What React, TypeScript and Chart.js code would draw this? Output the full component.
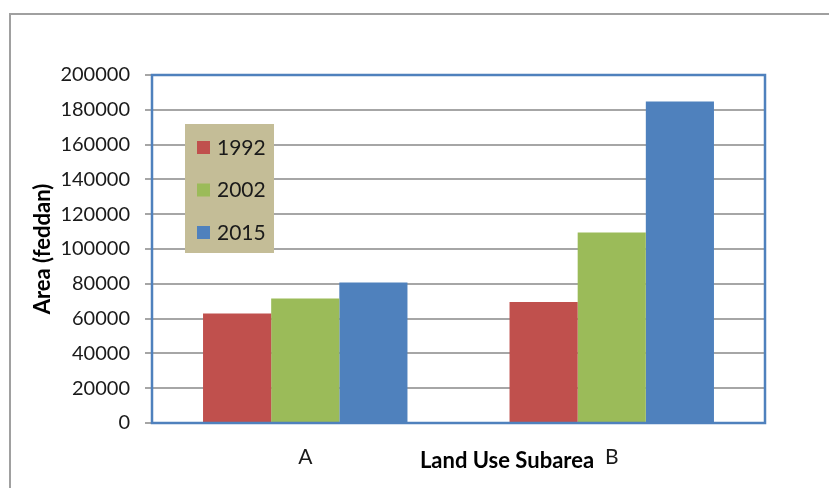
import React, { useEffect, useRef } from "react";
import { Chart, registerables } from "chart.js";

Chart.register(...registerables);

const categories = ["A", "B"];
const seriesNames = ["1992", "2002", "2015"];
const values1992 = [63000, 69500];
const values2002 = [71500, 109500];
const values2015 = [80700, 184800];
const colors = ["#C0504D", "#9BBB59", "#4F81BD"];
const yTitle = "Area (feddan)";
const xTitle = "Land Use Subarea";

const FONT = "Lato, 'Open Sans', sans-serif";

const decorPlugin = {
  id: "decor",
  beforeDraw(chart: any) {
    const ctx = chart.ctx;
    ctx.save();
    ctx.fillStyle = "#ffffff";
    ctx.fillRect(0, 0, chart.width, chart.height);
    ctx.strokeStyle = "#A0A0A0";
    ctx.lineWidth = 2;
    ctx.strokeRect(10, 14, chart.width + 20, chart.height + 20);
    ctx.restore();
  },
  afterDatasetsDraw(chart: any) {
    const ctx = chart.ctx;
    const a = chart.chartArea;
    ctx.save();
    // plot frame
    ctx.strokeStyle = "#4F81BD";
    ctx.lineWidth = 2.5;
    ctx.strokeRect(a.left, a.top, a.right - a.left, a.bottom - a.top);
    // legend box
    const lx = a.left + 33;
    const ly = a.top + 49;
    ctx.fillStyle = "#C4BD97";
    ctx.fillRect(lx, ly, 89, 129);
    ctx.font = `21px ${FONT}`;
    ctx.textBaseline = "middle";
    ctx.textAlign = "left";
    chart.data.datasets.forEach((ds: any, i: number) => {
      const cy = ly + 23 + i * 42.5;
      ctx.fillStyle = ds.backgroundColor;
      ctx.fillRect(lx + 12, cy - 6, 13, 13);
      ctx.fillStyle = "#1a1a1a";
      ctx.fillText(ds.label, lx + 32, cy + 1);
    });
    // axis titles
    ctx.fillStyle = "#000";
    ctx.font = `bold 22px ${FONT}`;
    ctx.textAlign = "center";
    ctx.textBaseline = "alphabetic";
    ctx.fillText(xTitle, a.left + 355, a.bottom + 45);
    ctx.save();
    ctx.translate(50, (a.top + a.bottom) / 2);
    ctx.rotate(-Math.PI / 2);
    ctx.textBaseline = "alphabetic";
    ctx.fillText(yTitle, 0, 0);
    ctx.restore();
    ctx.restore();
  },
};

export default function App() {
  const ref = useRef<HTMLCanvasElement | null>(null);
  useEffect(() => {
    document.body.style.margin = "0";
    const ds = [values1992, values2002, values2015].map((v, i) => ({
      label: seriesNames[i],
      data: v,
      backgroundColor: colors[i],
      borderWidth: 0,
      categoryPercentage: 0.667,
      barPercentage: 1,
    }));
    const chart = new Chart(ref.current!, {
      type: "bar",
      data: { labels: categories, datasets: ds },
      plugins: [decorPlugin],
      options: {
        animation: false,
        responsive: false,
        layout: { padding: { top: 75, right: 64, left: 0, bottom: 0 } },
        plugins: { legend: { display: false }, tooltip: { enabled: false } },
        scales: {
          x: {
            grid: { display: false, drawTicks: false },
            border: { display: false },
            ticks: {
              padding: 22,
              color: "#1a1a1a",
              font: { family: FONT, size: 21 },
            },
            afterFit(scale: any) {
              scale.height = 65;
            },
          },
          y: {
            min: 0,
            max: 200000,
            grid: {
              color: "#A6A6A6",
              lineWidth: 2,
              tickLength: 7,
              drawTicks: true,
            },
            border: { display: false },
            ticks: {
              stepSize: 20000,
              padding: 15,
              color: "#1a1a1a",
              font: { family: FONT, size: 20 },
              callback: (v: any) => String(v),
            },
            afterFit(scale: any) {
              scale.width = 152;
            },
          },
        },
      },
    });
    return () => chart.destroy();
  }, []);
  return (
    <div style={{ width: 829, height: 488 }}>
      <canvas ref={ref} width={829} height={488} />
    </div>
  );
}
